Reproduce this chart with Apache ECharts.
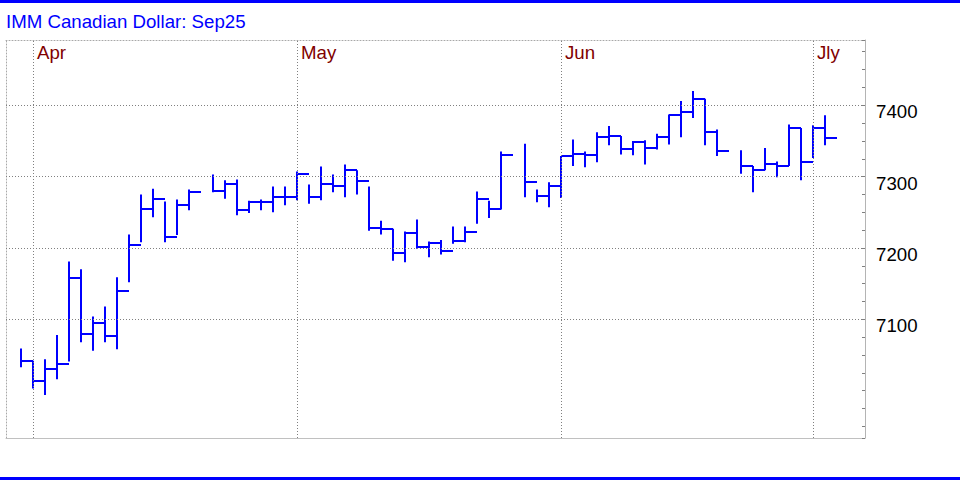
<!DOCTYPE html>
<html>
<head>
<meta charset="utf-8">
<style>
html,body{margin:0;padding:0;background:#ffffff;}
#chart{width:960px;height:480px;}
</style>
<script src="https://cdn.jsdelivr.net/npm/echarts@6.0.0/dist/echarts.min.js"></script>
</head>
<body>
<div id="chart"></div>
<script>
// ---------------- data ----------------
const chartTitle = 'IMM Canadian Dollar: Sep25';

// one slot per weekday (empty slots carry null)
const dates = [
  '2025-03-31',
  '2025-04-01','2025-04-02','2025-04-03','2025-04-04',
  '2025-04-07','2025-04-08','2025-04-09','2025-04-10','2025-04-11',
  '2025-04-14','2025-04-15','2025-04-16','2025-04-17','2025-04-18',
  '2025-04-21','2025-04-22','2025-04-23','2025-04-24','2025-04-25',
  '2025-04-28','2025-04-29','2025-04-30',
  '2025-05-01','2025-05-02',
  '2025-05-05','2025-05-06','2025-05-07','2025-05-08','2025-05-09',
  '2025-05-12','2025-05-13','2025-05-14','2025-05-15','2025-05-16',
  '2025-05-19','2025-05-20','2025-05-21','2025-05-22','2025-05-23',
  '2025-05-26','2025-05-27','2025-05-28','2025-05-29','2025-05-30',
  '2025-06-02','2025-06-03','2025-06-04','2025-06-05','2025-06-06',
  '2025-06-09','2025-06-10','2025-06-11','2025-06-12','2025-06-13',
  '2025-06-16','2025-06-17','2025-06-18','2025-06-19','2025-06-20',
  '2025-06-23','2025-06-24','2025-06-25','2025-06-26','2025-06-27',
  '2025-06-30',
  '2025-07-01','2025-07-02'
];

const highs = [7059,7042,7044,7078,7181,7170,7104,7118,7159,7219,7275,7283,7265,7268,7282,null,
  7303,7295,7296,7266,7268,7286,7286,7307,7289,7314,7303,7317,7309,7286,7238,7227,7223,7240,7209,7211,7230,7230,7279,7266,7335,null,
  7346,7282,7292,7329,7352,7335,7362,7371,7357,7350,7351,7360,7387,7406,7420,7409,7366,null,
  7337,7315,7340,7321,7373,7368,7372,7386];

const lows = [7033,7003,6994,7016,7041,7068,7056,7068,7058,7152,7208,7243,7208,7218,7253,null,
  7278,7269,7246,7249,7253,7250,7260,7267,7262,7267,7278,7271,7275,7224,7219,7182,7180,7199,7187,7191,7206,7208,7234,7242,7254,null,
  7271,7264,7257,7270,7315,7313,7320,7344,7331,7330,7317,7338,7345,7355,7382,7344,7329,null,
  7304,7278,7309,7299,7315,7295,7326,7344];

const closes = [7042,7014,7031,7037,7158,7080,7095,7077,7140,7204,7255,7268,7215,7260,7278,null,
  7280,7290,7253,7265,7265,7272,7271,7304,7271,7290,7287,7309,7294,7228,7227,7193,7221,7202,7207,7196,7210,7223,7269,7254,7330,null,
  7292,7273,7287,7329,7332,7330,7355,7357,7339,7349,7340,7355,7386,7391,7409,7362,7336,null,
  7315,7309,7317,7315,7368,7321,7368,7354];

const monthLabels = ['Apr','May','Jun','Jly'];
const monthStarts = ['2025-04-01','2025-05-01','2025-06-02','2025-07-01'];
const priceTicks = [7100,7200,7300,7400];

// visible value window of the plot
const yMin = 6933.7, yMax = 7491.4;
const slotsBefore = 1.25, slotsAfter = 3.333;

// ---------------- build ----------------
const monthSlots = monthStarts.map(d => dates.indexOf(d));
const bars = [];
dates.forEach((d, i) => {
  if (highs[i] != null) bars.push([i, highs[i], lows[i], closes[i], d]);
});
const xMin = -slotsBefore, xMax = dates.length - 1 + slotsAfter;

const FONT = '"Liberation Sans", Arial, Helvetica, sans-serif';
const FS = 18.67;
const BLUE = '#0000ff';

function renderItem(params, api) {
  const i = api.value(0);
  const hi = api.coord([i, api.value(1)]);
  const lo = api.coord([i, api.value(2)]);
  const cl = api.coord([i, api.value(3)]);
  const w = api.size([1, 0])[0];
  const x = Math.round(hi[0]);
  const yc = Math.round(cl[1]);
  return {
    type: 'group',
    children: [
      { type: 'line', z2: 10, shape: { x1: x, y1: hi[1], x2: x, y2: lo[1] },
        style: { stroke: BLUE, lineWidth: 2 } },
      { type: 'line', z2: 10, shape: { x1: x, y1: yc, x2: x + w, y2: yc },
        style: { stroke: BLUE, lineWidth: 2 } }
    ]
  };
}

const chart = echarts.init(document.getElementById('chart'), null, { renderer: 'svg' });
chart.setOption({
  animation: false,
  backgroundColor: '#ffffff',
  title: {
    text: chartTitle, left: 6, top: 12, padding: 0,
    textStyle: { color: BLUE, fontSize: FS, fontWeight: 'normal', fontFamily: FONT }
  },
  graphic: [
    { type: 'rect', left: 0, top: 0, shape: { width: 960, height: 3 }, style: { fill: BLUE } },
    { type: 'rect', left: 0, top: 477, shape: { width: 960, height: 3 }, style: { fill: BLUE } }
  ],
  grid: { left: 6, right: 95, top: 40, bottom: 42, containLabel: false, outerBoundsMode: 'none' },
  xAxis: [
    {
      type: 'value', position: 'bottom', min: xMin, max: xMax,
      axisLine: { show: true, onZero: false, lineStyle: { color: '#c0c0c0', width: 1 } },
      axisTick: { show: false }, axisLabel: { show: false }, splitLine: { show: false }
    },
    {
      type: 'value', position: 'top', min: xMin, max: xMax,
      axisLine: { show: true, onZero: false, lineStyle: { color: '#a8a8a8', width: 1, type: [1, 2] } },
      axisTick: { show: false }, splitLine: { show: false },
      axisLabel: {
        show: true, inside: true, customValues: monthSlots,
        formatter: v => { const k = monthSlots.indexOf(Math.round(v)); return k >= 0 ? monthLabels[k] : ''; },
        color: '#800000', fontSize: FS, fontFamily: FONT,
        align: 'left', verticalAlign: 'top', margin: 3, padding: [0, 0, 0, 4]
      }
    }
  ],
  yAxis: [
    {
      type: 'value', position: 'right', min: yMin, max: yMax, splitNumber: 5,
      axisLine: { show: true, onZero: false, lineStyle: { color: '#b4b4b4', width: 1 } },
      axisTick: { show: true, inside: true, length: 3, lineStyle: { color: '#808080' } },
      minorTick: { show: true, splitNumber: 4, length: 3, lineStyle: { color: '#808080' } },
      splitLine: { show: false },
      axisLabel: {
        show: true, margin: 11, color: '#000000', fontSize: FS, fontFamily: FONT,
        verticalAlign: 'top', lineHeight: 13, showMinLabel: false, showMaxLabel: false,
        formatter: v => priceTicks.indexOf(v) >= 0 ? String(v) : ''
      }
    },
    {
      type: 'value', position: 'left', min: yMin, max: yMax,
      axisLine: { show: true, onZero: false, lineStyle: { color: '#a8a8a8', width: 1, type: [1, 2] } },
      axisTick: { show: false }, axisLabel: { show: false }, splitLine: { show: false }
    }
  ],
  series: [
    {
      type: 'custom', xAxisIndex: 0, yAxisIndex: 0,
      data: bars,
      encode: { x: 0, y: [1, 2, 3] },
      renderItem: renderItem,
      markLine: {
        silent: true, symbol: 'none', animation: false,
        label: { show: false },
        lineStyle: { color: '#808080', width: 1, type: [1, 2] },
        emphasis: { disabled: true },
        data: priceTicks.map(v => ({ yAxis: v })).concat(monthSlots.map(s => ({ xAxis: s })))
      }
    }
  ]
});
</script>
</body>
</html>
